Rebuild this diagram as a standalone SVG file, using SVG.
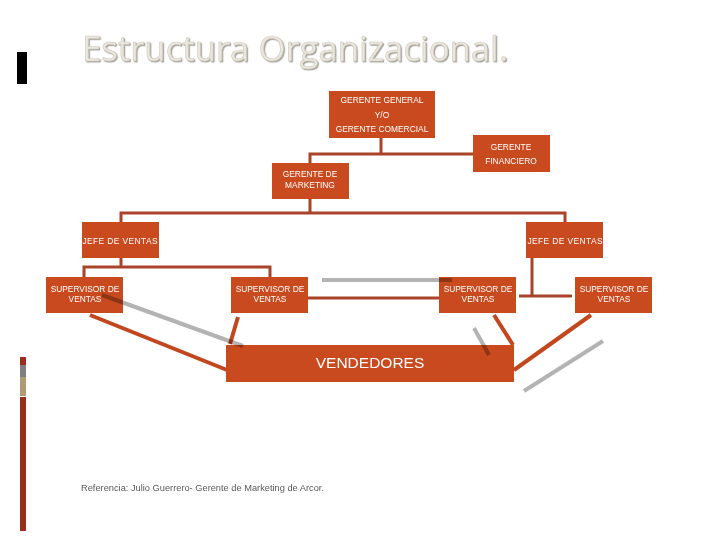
<svg xmlns="http://www.w3.org/2000/svg" width="720" height="540" viewBox="0 0 720 540">
<style>
.box{fill:#c94a1e}
.t{font-family:"Liberation Sans",Arial,sans-serif;font-size:8.4px;fill:#ffffff;text-anchor:middle}
.c{stroke:#a9442a;stroke-width:3;fill:none}
.d{stroke:#c2461e;stroke-width:4;fill:none}
.g{stroke:#b3b3b3;stroke-width:4;fill:none;mix-blend-mode:multiply}
</style>
<defs>
<filter id="sh" x="-5%" y="-20%" width="110%" height="140%">
<feDropShadow dx="1.2" dy="1.2" stdDeviation="0.6" flood-color="#8f8a80" flood-opacity="0.8"/>
</filter>
</defs>
<rect width="720" height="540" fill="#ffffff"/>
<rect x="17" y="52" width="10" height="32" fill="#000000"/>
<g id="sidebar">
<rect x="20" y="357" width="6" height="8" fill="#9b2d1f"/>
<rect x="20" y="365" width="6" height="12" fill="#7f7f7f"/>
<rect x="20" y="377" width="6" height="19" fill="#b09a75"/>
<rect x="20" y="397" width="6" height="134" fill="#9b2d1f"/>
</g>
<g id="title">
<text x="82" y="61" font-family="'Open Sans','Liberation Sans',sans-serif" font-size="35" fill="#ebe7de" stroke="#cfcac0" stroke-width="0.6" filter="url(#sh)" textLength="426" lengthAdjust="spacingAndGlyphs">Estructura  Organizacional.</text>
</g>
<g id="connectors">
<polyline class="c" points="381,138 381,154"/>
<polyline class="c" points="310,163 310,154 473,154"/>
<polyline class="c" points="310,198 310,213"/>
<polyline class="c" points="121,222 121,213 565,213 565,222"/>
<polyline class="c" points="121,258 121,267"/>
<polyline class="c" points="84,277 84,267 270,267 270,277"/>
<polyline class="c" points="532,258 532,296"/>
<polyline class="c" points="519,296 572,296"/>
<line class="c" x1="308" y1="298" x2="439" y2="298"/>
<line class="d" x1="90" y1="315" x2="227" y2="370"/>
<line class="d" x1="238" y1="317" x2="230" y2="344"/>
<line class="d" x1="494" y1="315" x2="513" y2="345"/>
<line class="d" x1="591" y1="315" x2="514" y2="370"/>
</g>
<g id="gerente-general"><rect class="box" x="329" y="91" width="106" height="47"/>
<text class="t" x="382" y="103">GERENTE GENERAL</text><text class="t" x="382" y="118">Y/O</text><text class="t" x="382" y="132">GERENTE COMERCIAL</text></g>
<g id="gerente-financiero"><rect class="box" x="473" y="135" width="77" height="37"/>
<text class="t" x="511" y="150">GERENTE</text><text class="t" x="511" y="164">FINANCIERO</text></g>
<g id="gerente-marketing"><rect class="box" x="272" y="163" width="77" height="36"/>
<text class="t" x="310" y="177">GERENTE DE</text><text class="t" x="310" y="188">MARKETING</text></g>
<g id="jefe-1"><rect class="box" x="82" y="222" width="77" height="36"/>
<text class="t" x="120" y="244" textLength="75" lengthAdjust="spacing">JEFE DE VENTAS</text></g>
<g id="jefe-2"><rect class="box" x="526" y="222" width="77" height="36"/>
<text class="t" x="565" y="244" textLength="75" lengthAdjust="spacing">JEFE DE VENTAS</text></g>
<g id="sup-1"><rect class="box" x="46" y="277" width="77" height="36"/>
<text class="t" x="85" y="292">SUPERVISOR DE</text><text class="t" x="85" y="302">VENTAS</text></g>
<g id="sup-2"><rect class="box" x="231" y="277" width="77" height="36"/>
<text class="t" x="270" y="292">SUPERVISOR DE</text><text class="t" x="270" y="302">VENTAS</text></g>
<g id="sup-3"><rect class="box" x="439" y="277" width="77" height="36"/>
<text class="t" x="478" y="292">SUPERVISOR DE</text><text class="t" x="478" y="302">VENTAS</text></g>
<g id="sup-4"><rect class="box" x="575" y="277" width="77" height="36"/>
<text class="t" x="614" y="292">SUPERVISOR DE</text><text class="t" x="614" y="302">VENTAS</text></g>
<g id="vendedores"><rect class="box" x="226" y="345" width="288" height="37"/>
<text x="370" y="368" font-family="'Liberation Sans',Arial,sans-serif" font-size="15.5" fill="#ffffff" text-anchor="middle">VENDEDORES</text></g>
<g id="gray-lines">
<line class="g" x1="322" y1="280" x2="452" y2="280"/>
<line class="g" x1="102" y1="295" x2="243" y2="346"/>
<line class="g" x1="474" y1="328" x2="489" y2="355"/>
<line class="g" x1="603" y1="341" x2="524" y2="391"/>
</g>
<text x="81" y="491" font-family="'Liberation Sans',Arial,sans-serif" font-size="8.5" fill="#595959" textLength="243" lengthAdjust="spacingAndGlyphs">Referencia: Julio Guerrero- Gerente de Marketing de Arcor.</text>
</svg>
